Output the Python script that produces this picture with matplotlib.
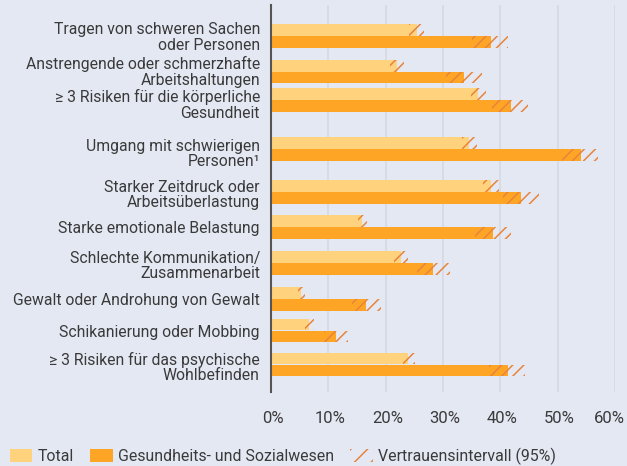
import matplotlib.pyplot as plt
import matplotlib.transforms as mtransforms
from matplotlib.patches import Patch

plt.rcParams["font.family"] = ["Roboto", "DejaVu Sans"]
plt.rcParams["hatch.linewidth"] = 1.1

# Daten (Anteil in %)
labels = [
    "Tragen von schweren Sachen\noder Personen",
    "Anstrengende oder schmerzhafte\nArbeitshaltungen",
    "≥ 3 Risiken für die körperliche\nGesundheit",
    "Umgang mit schwierigen\nPersonen¹",
    "Starker Zeitdruck oder\nArbeitsüberlastung",
    "Starke emotionale Belastung",
    "Schlechte Kommunikation/\nZusammenarbeit",
    "Gewalt oder Androhung von Gewalt",
    "Schikanierung oder Mobbing",
    "≥ 3 Risiken für das psychische\nWohlbefinden",
]
total = [25.4, 22.0, 36.1, 34.6, 38.4, 15.8, 22.6, 5.2, 6.7, 23.9]
total_lo = [24.1, 20.8, 34.9, 33.4, 36.9, 15.1, 21.5, 4.7, 6.0, 23.0]
total_hi = [26.7, 23.2, 37.5, 35.9, 39.8, 16.8, 23.9, 5.9, 7.5, 25.1]
gesund = [38.4, 33.6, 41.8, 54.0, 43.6, 38.7, 28.3, 16.6, 11.3, 41.4]
gesund_lo = [35.1, 30.5, 38.5, 50.7, 40.4, 35.6, 25.4, 14.2, 9.3, 38.1]
gesund_hi = [41.4, 36.8, 44.9, 57.0, 46.8, 41.8, 31.2, 19.1, 13.4, 44.3]
xticks = [0, 10, 20, 30, 40, 50, 60]

# Layout: Gruppenmitte bzw. Beschriftungsmitte in Pixeln von oben
rows = [36, 71.5, 100, 149, 192, 227, 263, 299, 330.5, 364.5]
label_pos = [35.5, 70, 103, 152, 193, 227, 264, 299, 330.5, 365.5]
bar_h = 11.7

bg = "#e4e8f3"
c_total = "#ffd27d"
c_gesund = "#ffa526"
c_ci = "#e8843c"
c_text = "#3a3a3a"

fig = plt.figure(figsize=(6.27, 4.66), dpi=100, facecolor=bg)
W, H = 627, 466
ax = fig.add_axes([271 / W, 1 - 392 / H, (615 - 271) / W, (392 - 5) / H])
ax.set_facecolor(bg)

y_tot = [r - bar_h / 2 for r in rows]
y_ges = [r + bar_h / 2 for r in rows]

ax.barh(y_tot, total, height=bar_h, color=c_total, zorder=2)
ax.barh(y_ges, gesund, height=bar_h, color=c_gesund, zorder=2)

# Vertrauensintervalle als schraffierte Bereiche
ax.barh(y_tot, [h - l for l, h in zip(total_lo, total_hi)], left=total_lo,
        height=bar_h, fill=False, hatch="///", edgecolor=c_ci, linewidth=0, zorder=3)
ax.barh(y_ges, [h - l for l, h in zip(gesund_lo, gesund_hi)], left=gesund_lo,
        height=bar_h, fill=False, hatch="///", edgecolor=c_ci, linewidth=0, zorder=3)

ax.set_xlim(0, 60)
ax.set_ylim(392, 5)
ax.set_xticks(xticks)
ax.set_xticklabels([f"{t}%" for t in xticks], fontsize=12, color=c_text)
ax.tick_params(axis="x", length=0, pad=14)
tlabels = ax.get_xticklabels()
for i, t in enumerate(tlabels):
    if i == len(tlabels) - 1:
        t.set_ha("right")
        dx = 10
    else:
        dx = 2
    t.set_transform(t.get_transform() + mtransforms.ScaledTranslation(dx / 100, 0, fig.dpi_scale_trans))

ax.set_yticks(label_pos)
ax.set_yticklabels(labels, fontsize=11.3, color=c_text, linespacing=1.08)
ax.tick_params(axis="y", length=0, pad=8)
ax.grid(axis="x", color="#d6d9e2", linewidth=1.2, zorder=0)
for s in ["top", "right", "bottom"]:
    ax.spines[s].set_visible(False)
ax.spines["left"].set_color("#555555")
ax.spines["left"].set_linewidth(1.5)
ax.spines["left"].set_zorder(4)

handles = [
    Patch(facecolor=c_total, edgecolor="none", label="Total"),
    Patch(facecolor=c_gesund, edgecolor="none", label="Gesundheits- und Sozialwesen"),
    Patch(facecolor="none", edgecolor=c_ci, hatch="//", linewidth=0,
          label="Vertrauensintervall (95%)"),
]
fig.legend(handles=handles, loc="lower left", bbox_to_anchor=(0.0, -0.018), ncol=3,
           frameon=False, fontsize=11.4, labelcolor=c_text, handlelength=1.45,
           handleheight=0.85, handletextpad=0.32, columnspacing=1.0, borderaxespad=0.2)

fig.savefig("out.png", dpi=100, facecolor=bg)
